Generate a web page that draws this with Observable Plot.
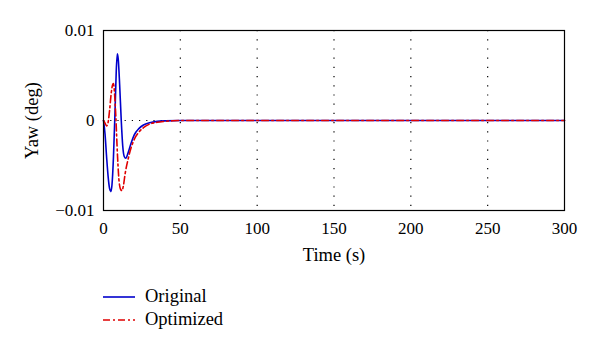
<!DOCTYPE html>
<html><head><meta charset="utf-8">
<script src="https://cdn.jsdelivr.net/npm/d3@7"></script>
<script src="https://cdn.jsdelivr.net/npm/@observablehq/plot@0.6"></script>
<style>
body{margin:0;background:#fff;font-family:"Liberation Serif",serif;}
#legend{margin-left:103px;margin-top:15px;font-size:18.5px;color:#000}
.row{display:flex;align-items:center;height:23px}
.row svg{margin-right:8px}
</style></head><body>
<div id="chart"></div>
<div id="legend"></div>
<script>
const seriesNames = ["Original", "Optimized"];
const seriesColors = ["#0000cc", "#e00000"];
const seriesDash = ["none", "7,3,2,3"];

const timeOriginal = [0, 1, 2, 3, 4, 4.8, 5.5, 6.5, 7.5, 8.3, 9, 9.6, 10.5, 11.5, 12.5, 13.5, 14.5, 16, 18, 20, 23, 26, 30, 35, 40, 50, 300];
const yawOriginal = [0, -0.0015, -0.0040, -0.0062, -0.0076, -0.0079, -0.0072, -0.0040, 0.0010, 0.0055, 0.0074, 0.0068, 0.0040, 0.0002, -0.0028, -0.0040, -0.0042, -0.0036, -0.0025, -0.0016, -0.0009, -0.0005, -0.00025, -0.0001, -0.00004, 0, 0];

const timeOptimized = [0, 1, 2, 3, 4, 5, 6, 6.5, 7.2, 8, 9, 10, 11, 12, 13, 14, 16, 18, 20, 23, 26, 30, 35, 40, 45, 50, 300];
const yawOptimized = [0, -0.0003, -0.0006, -0.0002, 0.0012, 0.0030, 0.0040, 0.0041, 0.0030, 0.0005, -0.0035, -0.0065, -0.0076, -0.0078, -0.0072, -0.0060, -0.0043, -0.0030, -0.0021, -0.0013, -0.0008, -0.0004, -0.0002, -0.0001, -0.00003, 0, 0];

const xTicks = [0, 50, 100, 150, 200, 250, 300];
const xGrid = [50, 100, 150, 200, 250];
const yTicks = [-0.01, 0, 0.01];
const yTickLabels = ["\u22120.01", "0", "0.01"];

const orig = timeOriginal.map((t, i) => ({t, v: yawOriginal[i]}));
const opt = timeOptimized.map((t, i) => ({t, v: yawOptimized[i]}));

const chart = Plot.plot({
  width: 600, height: 270,
  marginLeft: 103, marginRight: 36, marginTop: 30, marginBottom: 60,
  style: {fontFamily: "Liberation Serif, serif", fontSize: "17px", color: "#000", background: "#fff"},
  x: {domain: [0, 300]},
  y: {domain: [-0.01, 0.01]},
  marks: [
    Plot.ruleX(xGrid, {stroke: "#000", strokeDasharray: "1.2,8", strokeWidth: 1.2}),
    Plot.ruleY([0], {stroke: "#000", strokeDasharray: "1.2,6", strokeWidth: 1.2}),
    Plot.line(orig, {x: "t", y: "v", stroke: seriesColors[0], strokeWidth: 1.6, curve: "monotone-x"}),
    Plot.line(opt, {x: "t", y: "v", stroke: seriesColors[1], strokeWidth: 1.6, strokeDasharray: seriesDash[1], curve: "monotone-x"}),
    Plot.frame({stroke: "#000", strokeWidth: 1.2}),
    Plot.axisX({ticks: xTicks, tickSize: 0, tickPadding: 11, fontSize: 17, tickFormat: d => String(d), label: null}),
    Plot.axisX({ticks: [], label: "Time (s)", labelArrow: "none", labelAnchor: "center", labelOffset: 50, fontSize: 18.5}),
    Plot.axisY({ticks: yTicks, tickSize: 0, tickPadding: 9, fontSize: 17, tickFormat: d => yTickLabels[yTicks.indexOf(d)], label: null}),
    Plot.axisY({ticks: [], label: "Yaw (deg)", labelArrow: "none", labelAnchor: "center", labelOffset: 79, fontSize: 18.5})
  ]
});
document.getElementById("chart").appendChild(chart);

const legend = document.getElementById("legend");
seriesNames.forEach((name, i) => {
  const row = document.createElement("div");
  row.className = "row";
  row.innerHTML = `<svg width="34" height="10"><line x1="0" x2="32" y1="5" y2="5" stroke="${seriesColors[i]}" stroke-width="1.6" ${seriesDash[i] !== "none" ? `stroke-dasharray="${seriesDash[i]}"` : ""}/></svg><span>${name}</span>`;
  legend.appendChild(row);
});
</script>
</body></html>
